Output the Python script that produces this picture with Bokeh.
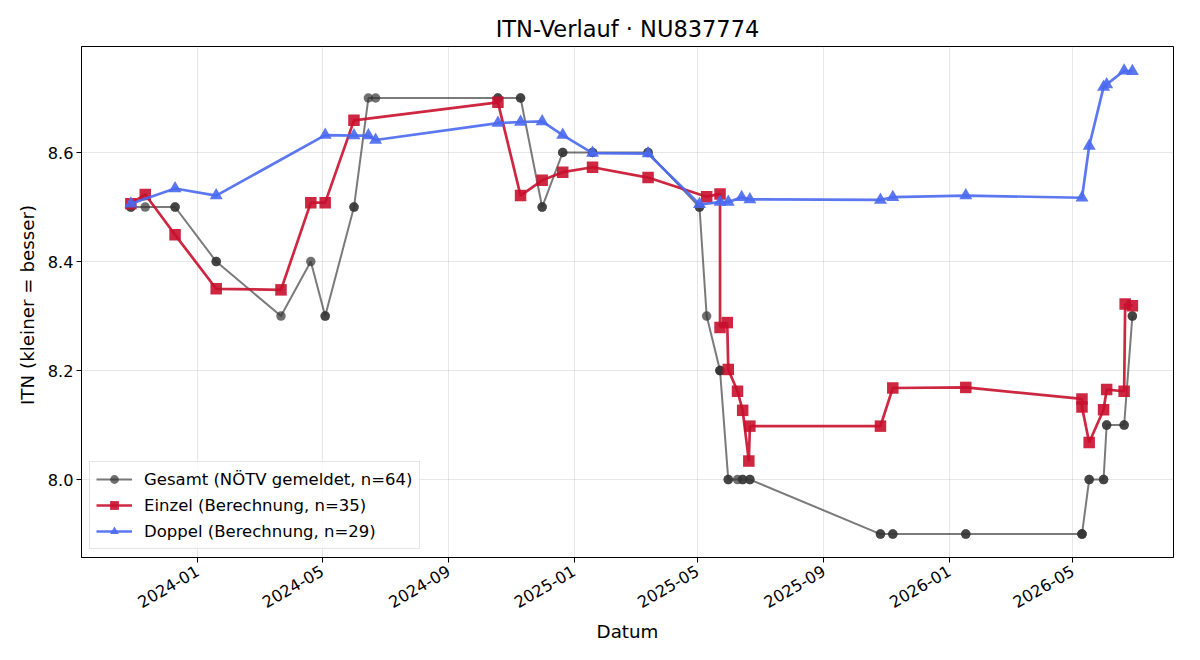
import math
import pandas as pd
from bokeh.plotting import figure
from bokeh.models import Range1d, FixedTicker, DatetimeTickFormatter, PrintfTickFormatter, Legend, LegendItem
from bokeh.embed import file_html
from bokeh.resources import INLINE

# ---------------- data ----------------
gesamt_dates = [
    "2023-10-28", "2023-10-28", "2023-11-11", "2023-12-10", "2023-12-10",
    "2024-01-19", "2024-01-19", "2024-03-22", "2024-04-20", "2024-05-04", "2024-05-04",
    "2024-06-01", "2024-06-01", "2024-06-15", "2024-06-22",
    "2024-10-19", "2024-10-19", "2024-11-10", "2024-11-10", "2024-12-01", "2024-12-01",
    "2024-12-21", "2024-12-21", "2025-01-19", "2025-01-19", "2025-03-14", "2025-03-14",
    "2025-05-03", "2025-05-03", "2025-05-10", "2025-05-23", "2025-05-23", "2025-05-23",
    "2025-05-31", "2025-05-31", "2025-06-09", "2025-06-14", "2025-06-14",
    "2025-06-21", "2025-06-21", "2025-10-26", "2025-10-26", "2025-11-07", "2025-11-07",
    "2026-01-17", "2026-01-17", "2026-05-10", "2026-05-10", "2026-05-10",
    "2026-05-17", "2026-05-17", "2026-05-31", "2026-05-31", "2026-06-03", "2026-06-03",
    "2026-06-20", "2026-06-20", "2026-06-28", "2026-06-28",
]
gesamt_vals = [
    8.5, 8.5, 8.5, 8.5, 8.5,
    8.4, 8.4, 8.3, 8.4, 8.3, 8.3,
    8.5, 8.5, 8.7, 8.7,
    8.7, 8.7, 8.7, 8.7, 8.5, 8.5,
    8.6, 8.6, 8.6, 8.6, 8.6, 8.6,
    8.5, 8.5, 8.3, 8.2, 8.2, 8.2,
    8.0, 8.0, 8.0, 8.0, 8.0,
    8.0, 8.0, 7.9, 7.9, 7.9, 7.9,
    7.9, 7.9, 7.9, 7.9, 7.9,
    8.0, 8.0, 8.0, 8.0, 8.1, 8.1,
    8.1, 8.1, 8.3, 8.3,
]

einzel_dates = [
    "2023-10-28", "2023-11-11", "2023-12-10", "2024-01-19", "2024-03-22", "2024-04-20",
    "2024-05-04", "2024-06-01", "2024-10-19", "2024-11-10", "2024-12-01", "2024-12-21",
    "2025-01-19", "2025-03-14", "2025-05-10", "2025-05-23", "2025-05-23", "2025-05-30",
    "2025-05-31", "2025-06-09", "2025-06-14", "2025-06-20", "2025-06-21", "2025-10-26",
    "2025-11-07", "2026-01-17", "2026-05-10", "2026-05-10", "2026-05-17", "2026-05-31",
    "2026-06-03", "2026-06-20", "2026-06-21", "2026-06-28",
]
einzel_vals = [
    8.506, 8.523, 8.449, 8.350, 8.348, 8.508,
    8.508, 8.659, 8.692, 8.521, 8.549, 8.564,
    8.573, 8.554, 8.519, 8.524, 8.279, 8.288,
    8.202, 8.162, 8.127, 8.034, 8.098, 8.098,
    8.168, 8.169, 8.148, 8.133, 8.068, 8.128,
    8.165, 8.162, 8.322, 8.319,
]

doppel_dates = [
    "2023-10-28", "2023-12-10", "2024-01-19", "2024-05-04", "2024-06-01", "2024-06-15",
    "2024-06-22", "2024-10-19", "2024-11-10", "2024-12-01", "2024-12-21", "2025-01-19",
    "2025-03-14", "2025-05-03", "2025-05-23", "2025-05-31", "2025-06-13", "2025-06-21",
    "2025-10-26", "2025-11-07", "2026-01-17", "2026-05-10", "2026-05-17", "2026-05-31",
    "2026-06-03", "2026-06-20", "2026-06-28",
]
doppel_vals = [
    8.506, 8.534, 8.521, 8.632, 8.631, 8.631,
    8.623, 8.654, 8.656, 8.657, 8.632, 8.599,
    8.598, 8.505, 8.509, 8.509, 8.518, 8.514,
    8.513, 8.518, 8.521, 8.517, 8.612, 8.720,
    8.725, 8.750, 8.749,
]

x_tick_labels = ["2024-01", "2024-05", "2024-09", "2025-01", "2025-05", "2025-09", "2026-01", "2026-05"]
y_ticks = [8.0, 8.2, 8.4, 8.6]

title_text = "ITN-Verlauf · NU837774"
labels = ["Gesamt (NÖTV gemeldet, n=64)", "Einzel (Berechnung, n=35)", "Doppel (Berechnung, n=29)"]

# ---------------- plot ----------------
FONT = "DejaVu Sans"
to_dt = lambda lst: pd.to_datetime(lst)

x0 = pd.Timestamp("2023-09-10")
x1 = pd.Timestamp("2026-08-07")

p = figure(width=1200, height=660, x_axis_type="datetime",
           output_backend="svg", toolbar_location=None,
           x_range=Range1d(x0, x1), y_range=Range1d(7.857, 8.7945),
           min_border_left=81, min_border_right=27, min_border_top=46, min_border_bottom=103)

p.title.text = title_text
p.title.align = "center"
p.title.text_font = FONT
p.title.text_font_size = "22.5px"
p.title.text_font_style = "normal"
p.title.text_color = "black"
p.title.standoff = 10

p.outline_line_color = "black"
p.outline_line_width = 1
p.background_fill_color = "white"
p.border_fill_color = "white"

tick_ms = [pd.Timestamp(t + "-01").value // 10**6 for t in x_tick_labels]
p.xaxis.ticker = FixedTicker(ticks=tick_ms)
fmt = "%Y-%m"
p.xaxis.formatter = DatetimeTickFormatter(years=fmt, months=fmt, days=fmt, hours=fmt,
                                          minutes=fmt, seconds=fmt, milliseconds=fmt,
                                          microseconds=fmt, hourmin=fmt, minsec=fmt)
p.xaxis.major_label_orientation = math.pi / 6
p.yaxis.ticker = FixedTicker(ticks=y_ticks)
p.yaxis.formatter = PrintfTickFormatter(format="%.1f")

for ax in (p.xaxis, p.yaxis):
    ax.axis_line_color = "black"
    ax.axis_line_width = 1
    ax.major_tick_line_color = "black"
    ax.major_tick_out = 5
    ax.major_tick_in = 0
    ax.minor_tick_line_color = None
    ax.major_label_text_font = FONT
    ax.major_label_text_font_size = "16.2px"
    ax.major_label_text_color = "black"
    ax.axis_label_text_font = FONT
    ax.axis_label_text_font_size = "18.3px"
    ax.axis_label_text_font_style = "normal"
    ax.axis_label_text_color = "black"
    ax.major_label_standoff = 3

p.xaxis.major_label_standoff = 7
p.xaxis.axis_label = "Datum"
p.yaxis.axis_label = "ITN  (kleiner = besser)"
p.xaxis.axis_label_standoff = 4
p.yaxis.axis_label_standoff = 7

p.grid.grid_line_color = "#b0b0b0"
p.grid.grid_line_alpha = 0.3
p.grid.grid_line_width = 1

gx, ex, dx = to_dt(gesamt_dates), to_dt(einzel_dates), to_dt(doppel_dates)

g_line = p.line(gx, gesamt_vals, line_color="#333333", line_alpha=0.65, line_width=2)
g_pts = p.scatter(gx, gesamt_vals, marker="circle", size=9.5, fill_color="#333333",
                  line_color="#333333", fill_alpha=0.7, line_alpha=0.0)

e_line = p.line(ex, einzel_vals, line_color="#C8102E", line_alpha=0.9, line_width=2.7)
e_pts = p.scatter(ex, einzel_vals, marker="square", size=11.5, fill_color="#C8102E",
                  line_color="#C8102E", fill_alpha=0.9, line_alpha=0.0)

d_line = p.line(dx, doppel_vals, line_color="#4A69F0", line_alpha=0.9, line_width=2.7)
d_pts = p.scatter(dx, doppel_vals, marker="triangle", size=13, fill_color="#4A69F0",
                  line_color="#4A69F0", fill_alpha=0.9, line_alpha=0.0)

legend = Legend(items=[
    LegendItem(label=labels[0], renderers=[g_line, g_pts]),
    LegendItem(label=labels[1], renderers=[e_line, e_pts]),
    LegendItem(label=labels[2], renderers=[d_line, d_pts]),
], location="bottom_left")
legend.margin = 8
legend.padding = 6
legend.spacing = 4
legend.glyph_height = 22
legend.label_height = 22
legend.glyph_width = 36
legend.label_standoff = 12
legend.label_text_font = FONT
legend.label_text_font_size = "16.5px"
legend.label_text_color = "black"
legend.border_line_color = "#cccccc"
legend.border_line_width = 1
legend.background_fill_alpha = 0.8
p.add_layout(legend)

open("out.html", "w").write(file_html(p, INLINE))
